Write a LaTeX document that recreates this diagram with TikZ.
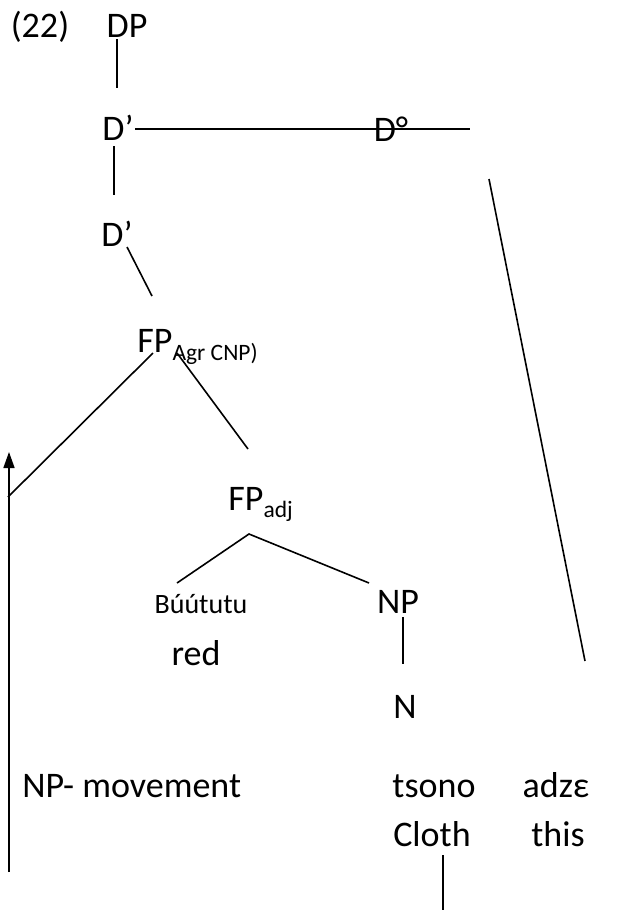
\documentclass[tikz,border=0pt]{standalone}
\usepackage{fontspec}
\setmainfont{Carlito}
\usetikzlibrary{arrows.meta}

\newcommand{\subcat}[2][4pt]{\raisebox{-#1}{\fontsize{11.75}{14}\selectfont #2}}

\begin{document}
\begin{tikzpicture}[
    x=0.5pt, y=-0.5pt,
    cat/.style = {font=\fontsize{18}{22}\selectfont, inner sep=0pt, anchor=base},
    word/.style = {font=\fontsize{14}{17}\selectfont, inner sep=0pt, anchor=base},
    branch/.style = {line width=0.8pt, black}
]
\useasboundingbox (0,0) rectangle (636,922);

% tree labels
\node [cat] (ex) at (40,37) {(22)};
\node [cat] (dp) at (127,37) {DP};
\node [cat] (dbarA) at (118,140) {D’};
\node [cat] (dzero) at (391,141) {D°};
\node [cat] (dbarB) at (117,246) {D’};
\node [cat, anchor=base west] (fpagr) at (137,352) {FP\subcat{Agr CNP)}};
\node [cat, anchor=base west] (fpadj) at (228,510) {FP\subcat[3.5pt]{adj}};
\node [word] (buu) at (201,613) {Búútutu};
\node [cat] (np) at (398,613) {NP};
\node [cat] (red) at (196,665) {red};
\node [cat] (n) at (405,718) {N};

% bottom lines
\node [cat, anchor=base west] (move) at (22,797) {NP- movement};
\node [cat] (tsono) at (434,797) {tsono};
\node [cat] (adze) at (556,797) {adzε};
\node [cat] (cloth) at (432,846) {Cloth};
\node [cat] (this) at (558,846) {this};

% free ends
\coordinate (fpfoot) at (8,497);
\coordinate (dtail) at (585,661);
\coordinate (mvfoot) at (9,872);
\coordinate (mvhead) at (9,452);
\coordinate (clothfoot) at (443,910);

% branches
\draw [branch] ([shift={(-10,2)}]dp.base) -- ([shift={(-1,-52)}]dbarA.base);
\draw [branch] ([shift={(17,-11)}]dbarA.base) -- ([shift={(79,-12)}]dzero.base);
\draw [branch] ([shift={(-4,6)}]dbarA.base) -- ([shift={(-3,-51)}]dbarB.base);
\draw [branch] ([shift={(10,1)}]dbarB.base) -- ([shift={(15,-56)}]fpagr.base west);
\draw [branch] ([shift={(16,1)}]fpagr.base west) -- (fpfoot);
\draw [branch] ([shift={(40,1)}]fpagr.base west) -- ([shift={(20,-61)}]fpadj.base west);
\draw [branch] ([shift={(-24,-30)}]buu.base) -- ([shift={(21,24)}]fpadj.base west)
    -- ([shift={(-29,-30)}]np.base);
\draw [branch] ([shift={(5,4)}]np.base) -- ([shift={(-2,-54)}]n.base);
\draw [branch] ([shift={(98,38)}]dzero.base) -- (dtail);
\draw [branch] ([shift={(11,9)}]cloth.base) -- (clothfoot);

% movement arrow
\draw [branch, -{Triangle[length=8pt, width=5.5pt]}] (mvfoot) -- (mvhead);

\end{tikzpicture}
\end{document}
